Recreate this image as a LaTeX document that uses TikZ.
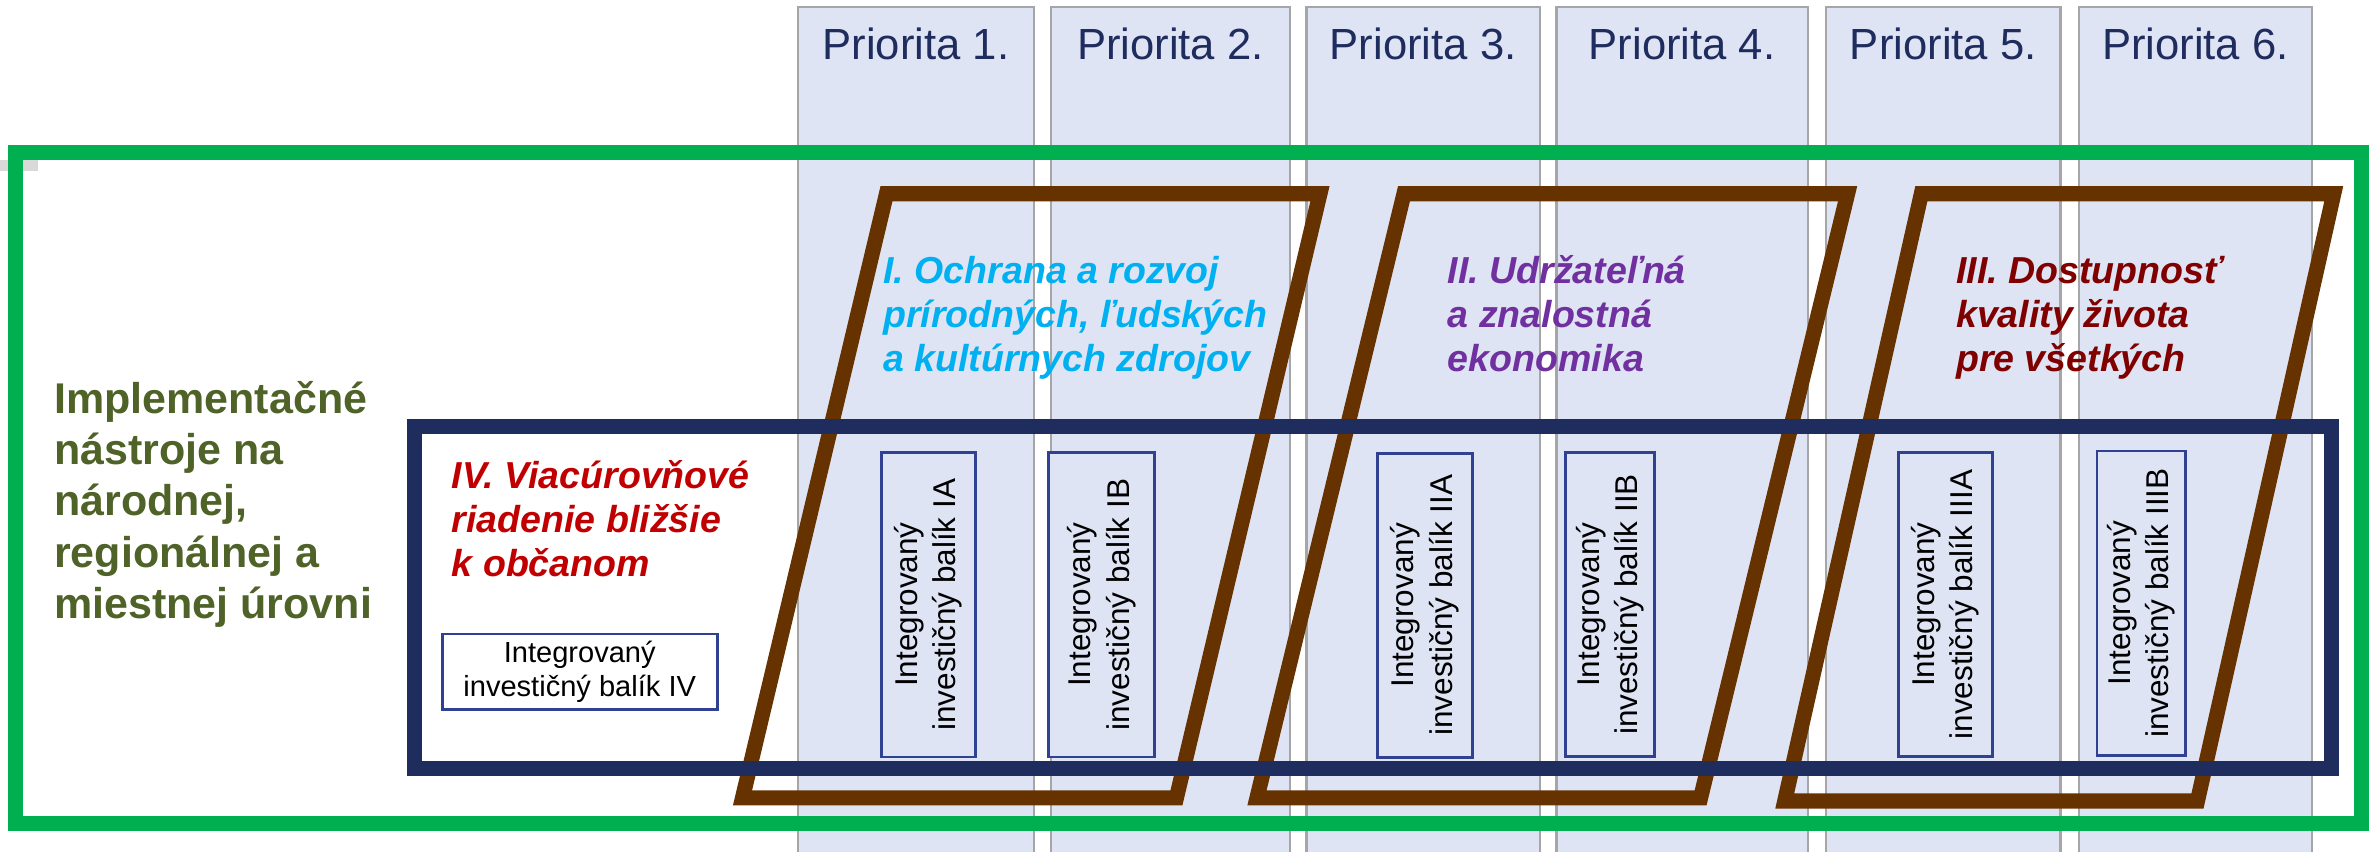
\documentclass[tikz,border=0pt]{standalone}
\usepackage{fontspec}
\setmainfont{Liberation Sans}
\definecolor{colfill}{RGB}{223, 228, 244}
\definecolor{colline}{RGB}{166, 166, 166}
\definecolor{cornergray}{RGB}{217, 217, 217}
\definecolor{ramgreen}{RGB}{0, 176, 80}
\definecolor{olivetext}{RGB}{79, 98, 40}
\definecolor{navyframe}{RGB}{31, 44, 94}
\definecolor{brownframe}{RGB}{102, 51, 0}
\definecolor{boxblue}{RGB}{47, 65, 144}
\definecolor{textcyan}{RGB}{0, 176, 240}
\definecolor{textpurple}{RGB}{112, 48, 160}
\definecolor{textmaroon}{RGB}{128, 0, 0}
\definecolor{textred}{RGB}{192, 0, 0}
\usetikzlibrary{calc}
\tikzset{
    prioritycol/.style={draw=colline, line width=0.75pt, fill=colfill},
    prio/.style={anchor=base, inner sep=0pt, text=navyframe,
        font=\fontsize{14.4}{17}\selectfont},
    pilier/.style={draw=brownframe, line width=5pt},
    pilierlabel/.style={anchor=base west, align=left, inner sep=0pt,
        font=\fontsize{12.4}{14.6}\selectfont\bfseries\itshape},
    balik/.style={draw=boxblue, line width=0.9pt, fill=colfill, rotate=90,
        align=center, inner sep=0pt, minimum width=100.5pt,
        font=\fontsize{10.4}{12.7}\selectfont},
}

\begin{document}
\begin{tikzpicture}[x=0.5pt, y=-0.5pt]
    \useasboundingbox (0,0) rectangle (1568,562.7);
    \foreach \l/\r [count=\i] in {527/683, 694/852, 863/1017,
        1028/1194, 1206/1361, 1373/1527} {
        \draw[prioritycol] (\l,4.4) rectangle (\r,570);
        \node[prio] (prio\i) at ({(\l+\r)/2},39.2) {Priorita \i.};
    }
    \fill[cornergray] (0,105.7) rectangle (25,112.8);
    \draw[draw=ramgreen, line width=5pt] (10.5,100.8) rectangle (1559.5,544);
    \draw[pilier] (585.5,128) -- (871.8,128) -- (777,527) -- (490.4,527) -- cycle;
    \draw[pilier] (927.3,128) -- (1220.3,128) -- (1123.2,527) -- (830.2,527) -- cycle;
    \draw[pilier] (1269,128) -- (1541.4,128) -- (1451.4,529) -- (1178.8,529) -- cycle;
    \draw[draw=navyframe, line width=5pt] (273.7,281.5) rectangle (1540,507.7);
    % labels sit on the baseline of their last line
    \node[anchor=base west, align=left, inner sep=0pt, text=olivetext,
        font=\fontsize{14.2}{16.95}\selectfont\bfseries] (nastroje) at (35.4,408.5)
        {Implementačné\\nástroje na\\národnej,\\regionálnej a\\miestnej úrovni};
    \node[pilierlabel, text=textcyan] (pilierI) at (583,245.6)
        {I. Ochrana a rozvoj\\prírodných, ľudských\\a kultúrnych zdrojov};
    \node[pilierlabel, text=textpurple] (pilierII) at (955.8,245.6)
        {II. Udržateľná\\a znalostná\\ekonomika};
    \node[pilierlabel, text=textmaroon] (pilierIII) at (1291.6,245.6)
        {III. Dostupnosť\\kvality života\\pre všetkých};
    \node[pilierlabel, text=textred] (pilierIV) at (298,380.9)
        {IV. Viacúrovňové\\riadenie bližšie\\k občanom};
    \node[draw=boxblue, line width=0.9pt, fill=white, minimum width=90.8pt,
        minimum height=24.9pt, inner sep=0pt, align=center,
        font=\fontsize{9.6}{11}\selectfont] (pakIV) at (382.9,443.7)
        {Integrovaný\\investičný balík IV};
    \foreach \cx/\cy/\bw/\pak in {613.2/399.4/30.9/IA, 727.5/399.4/35.1/IB,
        941.1/399.8/31.3/IIA, 1063.5/399.3/29.5/IIB,
        1284.8/399.3/31.1/IIIA, 1414.3/398.3/29.3/IIIB}
        \node[balik, minimum height=\bw pt] (pak\pak) at (\cx,\cy)
            {Integrovaný\\investičný balík \pak};
\end{tikzpicture}
\end{document}
